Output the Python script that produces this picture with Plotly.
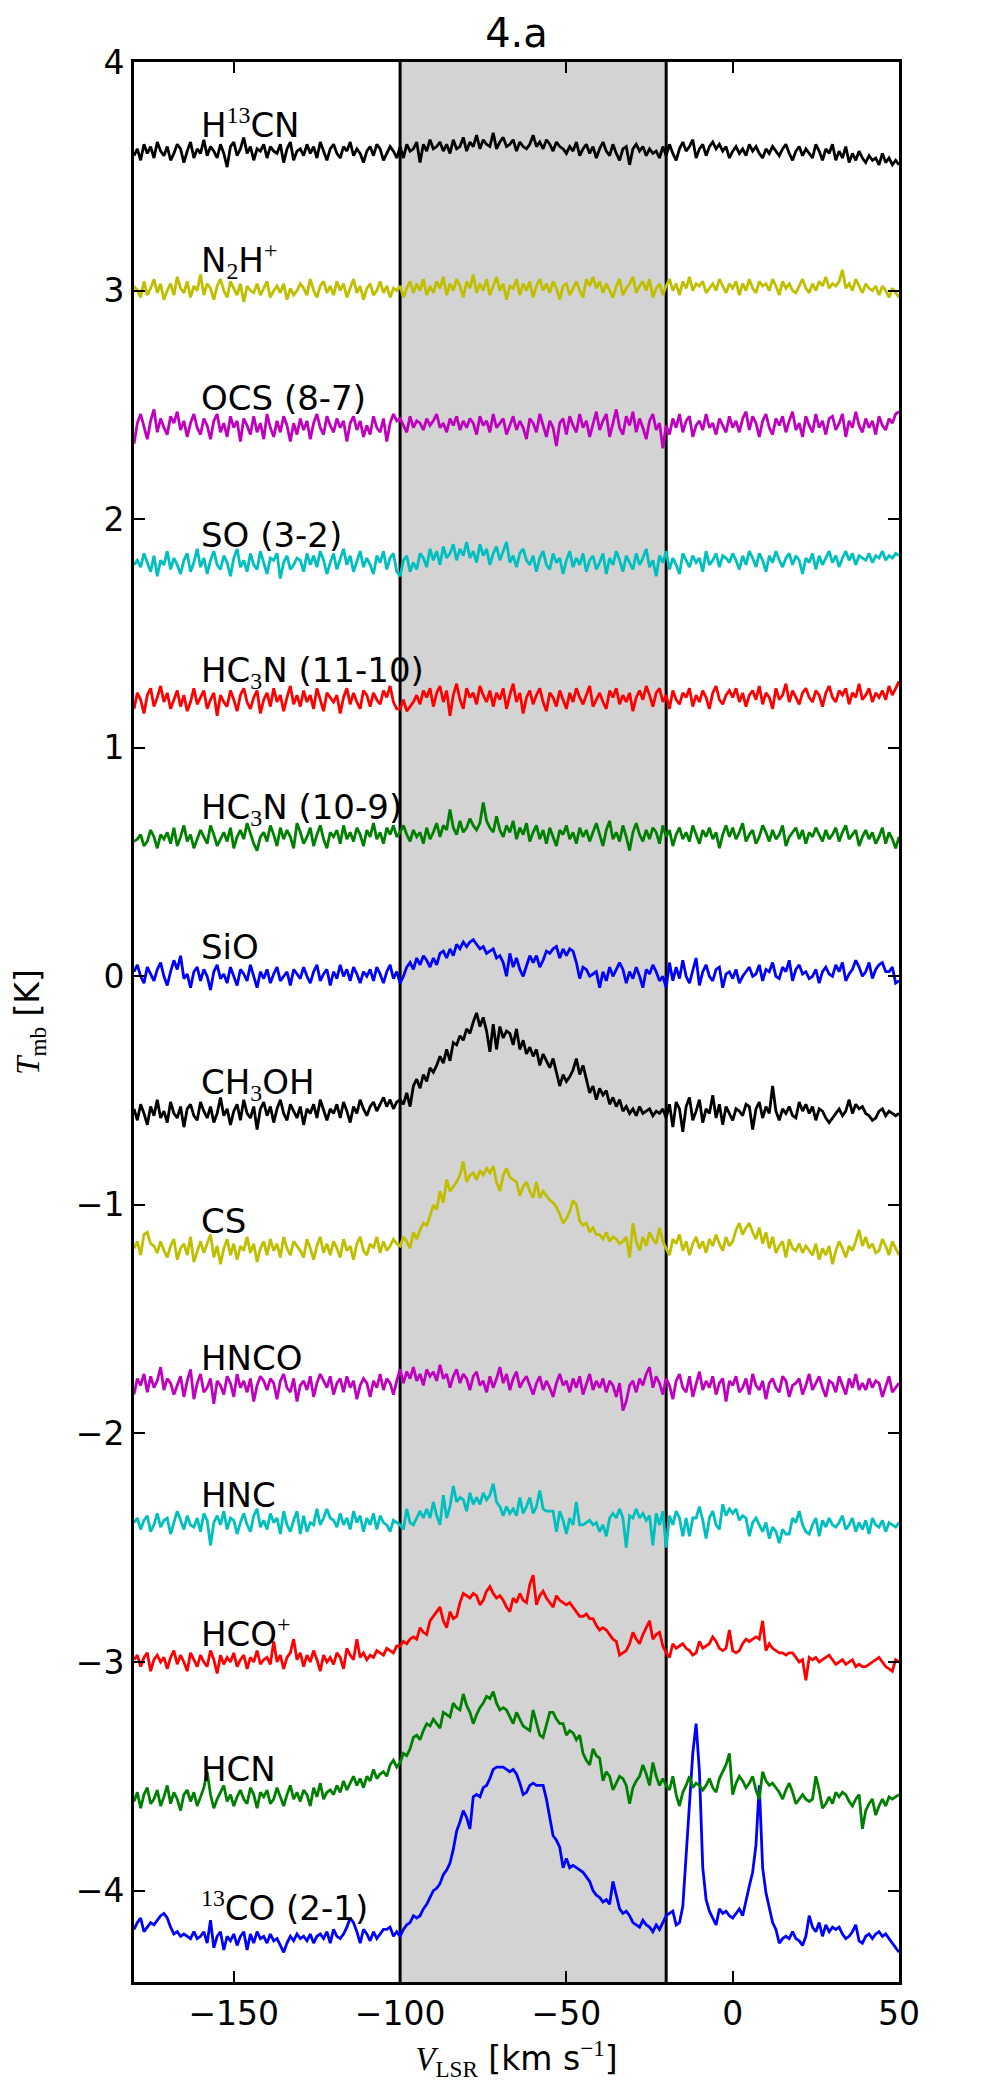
import plotly.graph_objects as go

# velocity channels of the spectra (km/s): first channel and channel width
V_START = -180.0
V_STEP = 1.0

# spectra, bottom to top, in units of 0.01 K (baseline removed), one row = 10 channels
co13_21 = [3, 6, 8, 2, 4, 6, 5, 7, 9, 10,
           8, 4, 1, 2, 0, 1, 0, -1, 2, -1,
           0, 2, -3, 7, -5, 0, 2, -6, 0, -2,
           1, -4, 0, 2, -6, 1, -3, 2, -1, 0,
           -3, 1, -2, -1, -4, -7, -3, 0, -2, 1,
           -1, 0, -2, 1, -3, 0, 1, -1, 2, -3,
           3, 0, -1, 1, 4, 8, 6, 2, -3, 3,
           1, -2, 2, -1, 1, 3, 3, 4, 0, 2,
           0, 3, 5, 6, 9, 8, 9, 12, 14, 17,
           20, 21, 23, 27, 29, 32, 38, 46, 50, 55,
           52, 47, 61, 62, 61, 65, 66, 69, 73, 74,
           74, 74, 73, 72, 73, 71, 67, 62, 63, 66,
           67, 66, 66, 66, 60, 52, 44, 42, 39, 30,
           34, 30, 31, 30, 29, 28, 26, 24, 20, 18,
           17, 15, 16, 14, 24, 18, 12, 10, 11, 9,
           6, 5, 4, 7, 5, 4, 2, 5, 3, 6,
           9, 10, 11, 5, 6, 13, 35, 60, 80, 93,
           72, 30, 16, 11, 8, 5, 12, 10, 11, 9,
           8, 10, 12, 9, 16, 22, 28, 40, 66, 30,
           19, 12, 6, 3, -3, -1, 0, -1, 2, -1,
           -2, -4, 0, 9, 4, 2, 6, 0, 5, 2,
           4, 3, 4, 1, -1, 0, 2, 5, -2, -3,
           0, 1, -1, 1, 2, 0, 1, -1, -3, -5,
           -7]
hcn = [-1, 3, -4, 2, 5, -2, 0, 4, -3, 1,
       6, -2, 3, 0, -5, 2, 4, -1, 3, -3,
       1, 5, 12, 2, -4, 0, 3, 6, -1, 2,
       -3, 1, 4, 0, -2, 5, 2, -4, 3, 1,
       4, -2, 0, 5, 1, -3, 2, 6, 0, 3,
       -1, 4, 2, -3, 5, 1, 7, 0, 3, 4,
       2, 6, 3, 8, 4, 7, 10, 6, 9, 5,
       10, 8, 13, 9, 11, 12, 10, 15, 17, 14,
       16, 20, 19, 22, 27, 28, 26, 30, 33, 32,
       35, 33, 31, 38, 37, 36, 42, 40, 39, 46,
       41, 38, 33, 37, 40, 42, 45, 44, 47, 42,
       39, 40, 39, 36, 33, 38, 35, 32, 31, 30,
       39, 33, 28, 27, 33, 38, 38, 35, 33, 33,
       28, 30, 29, 26, 28, 20, 17, 15, 22, 19,
       18, 8, 12, 10, 4, 7, 10, 9, 6, -2,
       5, 8, 10, 15, 11, 6, 16, 10, 6, 9,
       6, 4, 10, 2, -3, 3, 6, 10, 5, 7,
       6, 4, 6, 9, 5, 3, 9, 12, 15, 20,
       2, 7, 10, 8, 5, 7, 10, 4, 0, 12,
       8, 6, 7, 5, 3, 0, 4, 7, 3, -2,
       0, 2, 0, -1, 0, 10, 4, -4, -2, 1,
       -2, 3, 1, 3, 2, -1, -3, 0, 2, -13,
       -5, -2, 0, -7, -3, 0, -3, 1, 0, 1,
       2]
hco_plus = [1, 3, -2, 2, 4, -4, 1, 3, 0, 2,
            -3, 2, 5, -1, 3, 0, -4, 4, 1, -2,
            3, 0, -2, 5, 1, -5, 3, -1, 2, 0,
            4, -2, 1, 3, -3, 2, 0, 5, -1, 1,
            2, -1, 9, 0, 3, -3, 2, 4, 10, 1,
            4, -2, 3, 0, 5, 1, -4, 3, 0, 2,
            -1, 4, 2, -3, 6, 3, 1, 10, 2, 4,
            1, 3, 2, 5, 4, 3, 6, 5, 4, 7,
            7, 9, 8, 10, 11, 10, 15, 13, 12, 18,
            20, 22, 24, 18, 15, 22, 19, 20, 26, 30,
            29, 28, 30, 29, 25, 27, 31, 33, 30, 28,
            29, 27, 24, 22, 28, 26, 30, 27, 26, 34,
            38, 25, 29, 31, 28, 26, 24, 29, 27, 26,
            25, 26, 24, 22, 20, 20, 21, 19, 19, 16,
            14, 15, 14, 12, 10, 9, 3, 4, 5, 8,
            13, 10, 8, 12, 15, 18, 10, 12, 13, 7,
            4, 2, 8, 6, 7, 8, 6, 5, 3, 4,
            9, 6, 7, 8, 11, 9, 6, 5, 6, 14,
            5, 4, 5, 8, 10, 9, 10, 11, 10, 18,
            5, 8, 6, 5, 4, 4, 3, 4, 4, 2,
            0, 1, -8, 2, 1, 2, 0, 1, 2, 3,
            1, -1, 0, 1, -1, 0, 1, -2, -1, -2,
            -2, -1, 0, 1, 2, 0, -2, -3, -4, 1,
            0]
hnc = [1, 3, -2, 2, 4, -3, 0, 5, -1, 2,
       3, -4, 1, 6, 2, -2, 4, 0, -1, 3,
       -3, 5, 2, -9, 1, 4, 0, 6, -2, 3,
       2, -4, 1, 5, 0, -3, 4, 7, -1, 2,
       -2, 5, 1, 3, -4, 6, 0, -3, 2, 6,
       -4, 4, -3, 1, 0, 7, 0, 3, 7, 3,
       2, -1, 5, 0, 3, -2, 6, 1, 4, -3,
       3, 0, 5, -2, 4, 1, 0, -3, 2, 1,
       0, -2, 7, 1, 0, 3, 6, 3, 7, 3,
       10, 4, 0, 13, 3, 8, 17, 10, 12, 11,
       6, 14, 9, 12, 9, 14, 11, 13, 18, 10,
       8, 4, 8, 5, 7, 4, 12, 5, 8, 12,
       5, 8, 15, 7, 6, 6, 6, -3, 6, 2,
       -4, 3, 0, 10, 0, 0, 1, 2, 0, 1,
       -3, 0, -5, 3, 5, 3, 7, 3, -10, 4,
       3, 7, 3, 5, 2, 4, -9, 5, 0, 6,
       -10, 4, 0, 6, 3, -5, 3, -5, 3, 3,
       8, 2, -6, 3, 6, 0, -2, 9, 4, 7,
       5, 7, 2, 4, 3, -5, 1, 3, 0, -3,
       1, -6, -1, -3, -8, -2, -4, -4, 3, 1,
       6, 0, -3, -4, 0, 3, -5, 2, -1, 3,
       0, -1, 1, 4, -2, 0, 3, -3, 1, -2,
       2, -4, 3, 0, -1, 2, -3, 1, 0, -1,
       1]
hnco = [-3, 4, 1, 6, -2, 5, 0, 3, 9, -1,
        4, 2, -3, 1, 5, -4, 3, 8, -5, 2,
        6, -2, 0, 4, -7, 3, 1, -3, 5, 2,
        -4, 6, 0, 3, -2, 4, -6, 1, 5, 3,
        -1, 4, 2, -5, 3, 6, 0, -2, 4, -6,
        1, 3, -1, 5, -4, 2, 6, 3, 0, 5,
        -3, 2, 4, -2, 5, 0, 3, -5, 1, 4,
        2, -4, 3, 0, 6, -1, 4, 2, -3, 3,
        8, 2, 7, 4, 9, 3, 6, 1, 8, 5,
        7, 3, 10, 4, 6, 0, 5, 8, 2, 6,
        4, -1, 5, 7, 1, 3, -2, 5, 0, 4,
        9, 2, 6, -1, 4, 7, 0, 3, 5, 1,
        -3, 2, 5, -1, 3, 0, -4, 2, 6, 1,
        3, -2, 4, 0, 5, -3, 2, 6, -1, 3,
        0, 4, -2, 3, 1, -4, 2, -10, -6, 1,
        3, -2, 4, 1, 6, 9, 0, 5, 2, -3,
        4, 1, -5, 3, 6, 0, -2, 5, -4, 2,
        7, -1, 3, 0, 5, -3, 2, 4, -6, 3,
        1, 5, -2, 0, 4, -3, 6, 1, -1, 3,
        -5, 2, 4, 0, -2, 5, 3, -4, 1, 2,
        4, -3, 1, 6, -1, 2, 5, 0, -4, 3,
        2, -2, 5, 1, -3, 4, 0, 6, -1, 2,
        -1, 4, 0, 3, 2, -4, 1, 5, -2, 0,
        2]
cs = [1, 4, -2, 7, 8, 3, 2, -1, 4, 0,
      -3, 2, 5, -4, 1, 3, -2, 6, -5, 0,
      4, -1, 3, 7, -3, 2, -6, 1, 5, -2,
      3, -4, 2, 0, 6, -1, 3, -5, 1, 4,
      -2, 5, 0, 3, -3, 6, 1, -2, 4, 2,
      0, -3, 5, 1, -4, 2, 6, -1, 3, -2,
      4, 1, -3, 5, 0, 2, -4, 3, 6, 0,
      -2, 3, 1, 6, -1, 4, 0, 2, 5, 3,
      2, 6, 4, 1, 8, 5, 9, 12, 11, 15,
      20, 18, 26, 21, 31, 26, 28, 30, 33, 39,
      30, 33, 34, 31, 35, 33, 36, 34, 37, 30,
      26, 33, 36, 32, 31, 30, 24, 28, 30, 26,
      23, 30, 23, 26, 24, 22, 21, 19, 16, 12,
      14, 17, 22, 20, 13, 11, 12, 8, 10, 7,
      7, 5, 8, 4, 6, 5, 3, 4, 6, -3,
      12, 4, 0, 6, 2, 8, 5, 3, 10, 4,
      1, -2, 5, 3, 7, 0, 4, -2, 3, 6,
      1, 4, -1, 5, 2, 7, 3, 0, 6, 2,
      4, 9, 12, 7, 10, 12, 8, 5, 10, 3,
      8, 1, 6, -1, 2, 4, -3, 5, 1, 0,
      3, -1, 2, 0, -2, 3, -4, 1, -2, 2,
      -6, 0, 4, 1, -3, 2, 0, 4, 9, 2,
      6, 1, 3, -1, 0, 5, 2, -2, 4, 1,
      -2]
ch3oh = [2, -3, 4, 0, -5, 3, -1, 6, -2, 1,
         -4, 5, 0, -2, 3, -6, 2, 4, -1, -3,
         5, 1, -2, 3, -4, 0, 7, -1, 2, -5,
         1, 4, -3, 6, 0, -2, 3, -7, 2, 5,
         -1, 3, -4, 2, 6, 0, -3, 4, 1, -2,
         3, -5, 2, 0, 4, -2, 6, 1, -3, 2,
         0, 4, -2, 5, 1, -4, 3, 0, 6, 2,
         -1, 3, 5, 1, 4, 7, 3, 6, 2, 5,
         6, 4, 9, 3, 12, 15, 11, 17, 14, 20,
         18, 21, 25, 22, 28, 23, 31, 30, 34, 32,
         37, 35, 40, 44, 38, 42, 36, 27, 39, 28,
         38, 33, 36, 35, 30, 37, 28, 32, 26, 29,
         25, 28, 21, 26, 23, 20, 24, 18, 12, 17,
         14, 16, 19, 24, 17, 21, 15, 9, 12, 6,
         11, 8, 10, 4, 7, 3, 6, 1, 3, 0,
         2, -1, 3, 0, 1, 2, -1, 1, 0, 2,
         -2, 4, -6, 5, 2, -8, 3, 7, -3, 1,
         6, -4, 2, 0, 8, -2, 4, -5, 3, 0,
         -3, 2, 1, -1, 4, 3, -7, 2, 5, -2,
         3, 0, 12, 1, -3, 2, 0, 3, -1, -2,
         5, 1, 4, 0, 3, -3, 2, 1, -2, -4,
         -2, 0, 2, -1, 1, 6, 0, 4, 2, 3,
         0, -1, -3, -2, 1, 2, -1, 1, 0, -1,
         0]
sio = [2, 5, 0, -3, 4, 1, -2, 3, 6, 0,
       -4, 2, 7, 3, 9, -1, 1, -5, 2, 4,
       -2, 3, 0, -6, 2, 5, -1, 1, -3, 4,
       0, -4, 3, 1, -2, 5, 0, -5, 2, -1,
       3, -3, 1, 4, -2, 0, 2, -4, 3, 1,
       -1, 4, 0, -3, 2, 5, -2, 1, 3, -4,
       2, -1, 5, 0, 3, -2, 4, 1, -3, 2,
       0, 3, -2, 4, 1, -3, 2, 5, -1, 2,
       -3, 0, 4, 6, 3, 8, 5, 9, 7, 4,
       8, 5, 10, 11, 8, 12, 9, 14, 12, 15,
       13, 15, 16, 14, 12, 13, 10, 11, 12, 8,
       9, 6, 0, 10, 4, 8, 3, 0, 5, 9,
       6, 9, 4, 7, 11, 10, 12, 13, 8, 12,
       9, 12, 11, 6, -1, 4, 3, 0, 1, 2,
       -5, 2, -2, 4, 0, 3, 6, 3, -3, 2,
       -1, 4, 0, -5, 3, 1, 5, 2, -2, 0,
       -5, 6, -2, 4, -1, 7, 0, -3, 3, 8,
       -4, 2, 5, 0, -2, 3, 4, -5, 1, 2,
       -1, 3, -3, 0, 2, 4, 0, 1, 5, -2,
       3, 2, 6, 0, -1, 4, 2, 7, -2, 3,
       5, 1, 2, -1, 0, 3, -3, 2, 4, 1,
       0, 5, 2, 6, -2, 1, 3, 7, 4, 0,
       2, 6, -1, 3, 5, 6, 2, 2, 4, -3,
       -2]
hc3n_10_9 = [-1, 0, 2, -3, -1, 4, 1, -4, 2, 0,
             3, -2, 5, -3, 1, 6, -1, 2, -4, 0,
             4, 1, -2, 6, 2, -3, 0, 3, -1, 5,
             -4, 1, 4, 0, 7, 2, -2, -5, 1, 3,
             -1, 6, 2, -3, 5, 0, 4, 1, -4, 7,
             3, -2, 1, 5, -3, 2, 6, 0, -4, 3,
             1, 4, -2, 6, 0, 3, -1, 5, 2, -3,
             4, 1, 7, 0, 3, -2, 5, 2, 6, 1,
             3, 6, 2, -1, 4, 1, 3, -2, 5, 0,
             3, 7, 1, 6, 4, 13, 5, 2, 8, 3,
             5, 9, 6, 4, 7, 16, 8, 5, 3, 10,
             4, 1, 6, 3, 8, 0, 5, 2, 7, -1,
             3, 6, 0, 4, -2, 5, 1, -3, 4, 2,
             6, 0, 3, -2, 5, 1, 4, -1, 3, 7,
             2, -3, 4, 8, 0, 3, -1, 6, 1, -5,
             3, 7, 2, -1, 4, 0, 5, 3, -2, 6,
             1, 4, -3, 2, 5, 0, 3, -1, 6, 2,
             -2, 4, 1, 5, 0, 3, -4, 2, 6, 1,
             5, 0, 3, 7, -1, 2, 4, -2, 1, 6,
             3, -1, 4, 0, 2, 6, -3, 1, 3, 5,
             0, 4, -2, 3, 1, 5, 2, -1, 4, 0,
             2, 5, -1, 3, 6, 0, 2, 4, -3, 1,
             4, 0, 3, -2, 1, 5, -2, 3, 0, -4,
             1]
hc3n_11_10 = [-3, 4, 1, -5, 3, 6, -2, 2, 7, 0,
              4, -3, 1, 5, -2, 3, -4, 0, 6, -1,
              2, 5, -3, 1, 4, -6, 3, 0, -2, 5,
              1, -4, 3, 6, 0, -3, 2, 5, -5, 1,
              4, -2, 6, 0, 3, -4, 2, 7, -1, 3,
              -2, 5, 0, 3, -3, 6, 1, -4, 4, 2,
              0, 3, -5, 2, 6, -1, 4, 0, -3, 5,
              3, -2, 4, 1, -1, 5, 2, 7, 0, -3,
              -3, 1, -4, -2, 0, 3, -1, 5, 2, 6,
              -2, 4, 7, 0, 5, -6, 3, 8, 1, -3,
              6, 2, 4, -1, 7, 3, 0, 5, -2, 4,
              1, 6, -3, 3, 8, 0, 4, -5, 2, 5,
              -1, 3, 6, 0, -4, 4, 2, -2, 5, 1,
              -3, 4, 0, 6, 2, -1, 3, 7, -2, 1,
              4, 0, -3, 5, 2, 6, -1, 3, 0, 4,
              -4, 2, 5, 1, 7, 3, -2, 4, 6, 0,
              3, -3, 5, 1, -1, 4, 2, 6, -2, 3,
              0, 5, 2, -3, 4, 7, 1, -1, 3, 5,
              2, 6, 0, 4, -2, 3, 5, 1, 7, -1,
              4, 2, -3, 6, 1, 3, 8, 0, 5, 2,
              -1, 4, 6, 2, 0, 5, 3, -2, 4, 7,
              2, 0, 5, 3, 6, -1, 4, 2, 8, 1,
              3, 6, 0, 4, 2, 5, 1, 7, 3, 6,
              9]
so_32 = [0, 2, -1, 5, 1, -3, 4, -5, 2, 0,
         6, -2, 3, 0, -4, 2, 5, -3, 1, 7,
         -1, 3, -4, 2, 6, 0, -2, 4, 1, -5,
         3, 7, -1, 2, -3, 5, 0, -2, 6, 1,
         -4, 3, 2, 5, -6, 1, 4, -2, 0, 3,
         2, -3, 5, 0, 4, -1, 6, 2, -4, 1,
         5, -2, 3, 7, 0, 4, -3, 2, 6, -1,
         3, 0, -4, 4, 1, 6, -2, 3, 5, -3,
         -5, 2, 4, -3, 1, -2, 5, 3, -1, 7,
         2, 6, 0, 8, 3, 5, 9, 2, 7, 4,
         10, 3, 6, 1, 9, 4, 7, 0, 5, 8,
         2, 6, 10, 1, 4, -1, 5, 7, 2, 0,
         4, -3, 3, 6, 0, -2, 5, 1, 3, -4,
         2, 6, -1, 3, 0, 5, -3, 2, 4, -2,
         1, 5, -4, 3, 0, 6, 2, -3, 4, 1,
         -2, 5, 0, 3, 7, -1, 2, -5, 4, 1,
         6, -2, 3, 0, -4, 5, 2, -1, 4, 1,
         3, -3, 6, 0, 2, 5, -1, 4, 3, 1,
         5, 2, -2, 4, 0, 6, 3, -1, 5, 2,
         -3, 4, 1, 6, 2, -1, 3, 5, 0, 4,
         2, -4, 3, 1, 5, -2, 4, 0, 3, 6,
         1, 4, -1, 3, 6, 2, 5, 0, 4, 3,
         2, 5, 1, 4, 3, 6, 2, 4, 3, 5,
         4]
ocs_87 = [-7, 2, 6, 1, -5, 3, 8, -2, 4, 0,
          -3, 5, 2, 7, -1, 3, -4, 2, 6, 0,
          -3, 4, 1, -5, 3, 6, -2, 2, -4, 5,
          0, 3, -6, 4, 1, -3, 5, -2, 2, -5,
          6, 0, -4, 3, -2, 5, 1, -6, 2, -3,
          4, -1, 3, -5, 2, 6, 0, -3, 5, 1,
          -2, 4, 0, 3, -6, 2, 5, -1, 3, -4,
          1, -3, 5, 0, -2, 4, -6, 2, 6, 3,
          4, 1, -2, 5, 0, 3, 2, -1, 4, 1,
          3, 6, 0, 2, -2, 4, 1, 5, -1, 3,
          0, 4, 2, -3, 5, 1, 3, -2, 6, 0,
          2, 4, -3, 1, 5, -1, 3, 0, -5, 4,
          2, -2, 6, 1, -4, 3, 0, -8, 2, 4,
          -3, 5, 1, -2, 6, 0, 3, -4, 2, 7,
          -1, 3, 6, -4, 2, 8, 0, -3, 5, 1,
          7, -2, 4, 0, -5, 3, 6, -1, 2, -9,
          1, -3, 4, 0, 6, -2, 3, 5, -4, 1,
          3, -1, 6, 0, 2, -3, 4, 1, -2, 5,
          0, 3, -2, 4, 7, -1, 5, 2, -4, 3,
          6, 0, -3, 4, 1, 5, -2, 3, 7, -1,
          2, -4, 5, 1, -2, 6, 0, 3, -3, 4,
          5, -1, 2, 6, -4, 3, 0, 7, 1, -2,
          4, 0, 3, -3, 5, 1, -1, 4, 2, 6,
          7]
n2h_plus = [2, 0, -3, 4, -2, 1, 5, -1, 3, -4,
            0, 3, -2, 6, 1, -1, 4, -3, 2, 0,
            7, -2, 3, 1, -4, 2, 5, 0, -3, 4,
            1, -2, 3, -5, 2, 0, -1, 3, -2, 1,
            4, -3, 0, 2, -1, 3, -4, 1, -2, 0,
            3, 1, -2, 5, 0, -3, 2, 4, -1, 2,
            -2, 4, 0, 3, -3, 1, 5, -1, 2, -4,
            1, 3, -2, 0, 4, -1, 2, -3, 1, 0,
            2, -3, 1, 4, -1, 3, 0, 5, -2, 2,
            -1, 4, 1, 6, -2, 3, 0, 5, 2, -3,
            4, 1, 7, -1, 3, 0, 5, -2, 2, 6,
            0, 3, -4, 2, 1, 5, -2, 3, 0, 4,
            -3, 2, 5, 0, 3, -1, 4, 1, -4, 2,
            3, -2, 1, 4, 0, -3, 5, 2, 6, 1,
            4, -1, 3, 0, -3, 2, 5, -2, 1, 3,
            6, -1, 2, 4, 0, 5, -3, 1, 3, -2,
            2, 5, 0, 3, -2, 4, 1, 6, 0, 3,
            2, 4, -1, 1, 3, 0, 5, 2, -1, 3,
            1, 4, -2, 3, 0, 5, 1, -1, 4, 2,
            3, 0, 5, 2, -2, 4, 1, 3, 0, -1,
            2, 5, 1, -1, 3, 0, 4, 2, 6, 1,
            3, 2, 4, 9, 1, 3, 0, 5, 2, -1,
            3, 1, 0, 2, -2, 2, 0, -3, 1, -1,
            -3]
h13cn = [-1, 2, -3, 4, 0, 3, -2, 5, 1, -1,
         3, -3, 0, 4, 2, -4, 1, 5, -2, 2,
         0, 6, -1, 3, 1, -2, 4, 0, -6, 3,
         5, -1, 2, 7, 0, 3, -3, 2, 1, 4,
         -2, 3, 1, 0, 4, -4, 2, 5, -3, 1,
         2, -1, 4, 0, 3, -2, 5, 1, -3, 2,
         4, 0, -2, 3, 1, 5, -1, 2, 0, -4,
         1, 3, -1, 4, 2, -3, 0, 3, 1, -2,
         3, -2, 4, 1, 2, 5, -4, 4, 1, 6,
         2, 3, 5, 1, 4, 0, 6, 2, 3, 7,
         1, 5, 3, 8, 2, 6, 4, 3, 9, 2,
         5, 7, 3, 4, 6, 1, 5, 3, 2, 4,
         8, 3, 5, 2, 6, 4, 1, 5, 3, 2,
         0, 3, 1, 5, -1, 2, 4, 0, 3, -2,
         2, 5, 1, -1, 4, 0, -3, 2, 3, -5,
         2, 4, 1, 3, -1, 2, 0, 1, -2, 3,
         -1, 4, 0, -3, 2, 5, 1, 3, 6, -2,
         2, 4, -1, 3, 5, 2, 4, 1, 3, -2,
         1, 3, 0, 2, -1, 4, 1, 3, 0, -2,
         2, 0, 3, 1, -1, 2, 4, 0, -3, 1,
         3, -1, 2, 0, -2, 4, 1, -3, 2, 0,
         4, -3, 1, -2, 3, -4, 0, -3, 1, -2,
         -4, -1, -3, -2, -5, 0, -4, -2, -5, -3,
         -5]

spectra = [co13_21, hcn, hco_plus, hnc, hnco, cs, ch3oh, sio,
           hc3n_10_9, hc3n_11_10, so_32, ocs_87, n2h_plus, h13cn]

SERIF = "Liberation Serif"


def m(s):
    # mathtext-like serif pieces (super/subscripts, italic symbols)
    return '<span style="font-family:%s">%s</span>' % (SERIF, s)


names = [m("<sup>13</sup>") + "CO (2-1)", "HCN", "HCO" + m("<sup>+</sup>"),
         "HNC", "HNCO", "CS", "CH" + m("<sub>3</sub>") + "OH", "SiO",
         "HC" + m("<sub>3</sub>") + "N (10-9)", "HC" + m("<sub>3</sub>") + "N (11-10)",
         "SO (3-2)", "OCS (8-7)", "N" + m("<sub>2</sub>") + "H" + m("<sup>+</sup>"),
         "H" + m("<sup>13</sup>") + "CN"]
offsets = [-4.2, -3.6, -3.0, -2.4, -1.8, -1.2, -0.6, 0.0, 0.6, 1.2, 1.8, 2.4, 3.0, 3.6]
colors = ["#0000ff", "#008000", "#ff0000", "#00bfbf", "#bf00bf", "#bfbf00", "#000000",
          "#0000ff", "#008000", "#ff0000", "#00bfbf", "#bf00bf", "#bfbf00", "#000000"]

window = [-100, -20]   # shaded velocity interval
label_x = -160.5
label_dy = 0.13

fig = go.Figure()

for spec, off, col in zip(spectra, offsets, colors):
    vel = [V_START + V_STEP * k for k in range(len(spec))]
    tmb = [t / 100.0 + off for t in spec]
    fig.add_trace(go.Scatter(x=vel, y=tmb, mode="lines",
                             line=dict(color=col, width=2.8), showlegend=False))

for name, off in zip(names, offsets):
    fig.add_annotation(x=label_x, y=off + label_dy, text=name, showarrow=False,
                       xanchor="left", yanchor="middle",
                       font=dict(size=34, color="black"))

fig.add_shape(type="rect", x0=window[0], x1=window[1], y0=0, y1=1,
              xref="x", yref="paper", fillcolor="#d3d3d3", line_width=0, layer="below")
for w in window:
    fig.add_shape(type="line", x0=w, x1=w, y0=0, y1=1, xref="x", yref="paper",
                  line=dict(color="black", width=3), layer="below")

axis_style = dict(showline=True, linecolor="black", linewidth=3, mirror="ticks",
                  ticks="inside", ticklen=11, tickwidth=1.5, tickcolor="black",
                  showgrid=False, zeroline=False, tickfont=dict(size=33, color="black"))

fig.update_xaxes(range=[-180, 50], tickvals=[-150, -100, -50, 0, 50],
                 title=dict(text=m("<i>V</i><sub>LSR</sub>") + " [km s" + m("<sup>\u22121</sup>") + "]",
                            font=dict(size=33, color="black"), standoff=16),
                 **axis_style)
fig.update_yaxes(range=[-4.4, 4], dtick=1,
                 title=dict(text=m("<i>T</i><sub>mb</sub>") + " [K]",
                            font=dict(size=33, color="black"), standoff=33),
                 **axis_style)

# the page body adds a small offset, so the margins are trimmed accordingly
fig.update_layout(
    width=1000, height=2089,
    margin=dict(l=112, r=109, t=54, b=115),
    paper_bgcolor="white", plot_bgcolor="white",
    font=dict(family="DejaVu Sans", color="black"),
    title=dict(text="4.a", x=0.5, xref="paper", xanchor="center",
               y=1 - 25 / 2089, yref="container", yanchor="middle",
               font=dict(size=40, color="black")),
)

fig.write_html("out.html")
